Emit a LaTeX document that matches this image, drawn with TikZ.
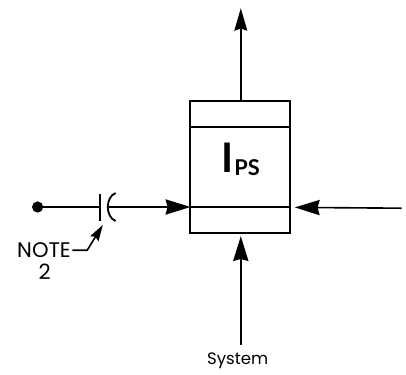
\documentclass[tikz,border=0pt]{standalone}
\usepackage{fontspec}
\setmainfont{Poppins}
\newfontfamily\ipsfont{Lato}
\usetikzlibrary{arrows.meta,positioning,calc}
\tikzset{
  wire/.style={line width=1.15pt},
  flow/.style={wire,-{Stealth[length=0.62cm,width=0.38cm,inset=0.05cm]}},
  outflow/.style={wire,-{Stealth[length=0.56cm,width=0.32cm,inset=0.05cm]}},
  label/.style={inner sep=0pt,font=\fontsize{15}{17}\selectfont},
}
\begin{document}
\begin{tikzpicture}[every node/.style={inner sep=0pt}]
  \useasboundingbox (0,0) rectangle (10.15,9.375);
  % I_PS block
  \node[draw,line width=1.3pt,minimum width=2.51cm,minimum height=3.3cm] (block) at (6.0,5.2) {};
  \coordinate (rowtopL) at (4.76,6.2);
  \coordinate (rowtopR) at (7.26,6.2);
  \coordinate (rowbotL) at (4.76,4.2);
  \coordinate (rowbotR) at (7.26,4.2);
  \draw[line width=1.3pt] (rowtopL) -- (rowtopR);
  \draw[line width=1.3pt] (rowbotL) -- (rowbotR);
  \node (ips) at (6.02,5.4) {\fontsize{29}{30}\selectfont\ipsfont\bfseries I\hspace{0.5pt}\raisebox{-2pt}{\fontsize{15.5}{20}\selectfont PS}};
  % output
  \coordinate (outtip) at (6.02,9.17);
  \draw[outflow] (6.02,6.85) -- (outtip);
  % system input
  \node[label,font=\fontsize{11.8}{14}\selectfont] (system) at (5.94,0.36) {System};
  \coordinate (systail) at (6.02,0.75);
  \coordinate (systip) at (6.02,3.47);
  \draw[flow] (systail) -- (systip);
  % right input
  \coordinate (righttail) at (10.04,4.17);
  \coordinate (righttip) at (7.37,4.19);
  \draw[flow] (righttail) -- (righttip);
  % left input with capacitor
  \node[circle,fill=black,minimum size=0.28cm] (dot) at (0.94,4.2) {};
  \coordinate (plateA) at (2.51,4.2);
  \coordinate (plateB) at (2.72,4.2);
  \coordinate (lefttip) at (4.76,4.2);
  \draw[wire] (dot) -- (plateA);
  \draw[line width=1.3pt] (2.51,3.86) -- (2.51,4.53);
  \draw[line width=1.3pt] (2.89,4.55) .. controls (2.63,4.45) and (2.63,3.95) .. (2.89,3.85);
  \draw[flow] (plateB) -- (lefttip);
  % note
  \node[label] (note) at (1.1,3.12) {NOTE};
  \node[label] (notenum) at (1.12,2.58) {2};
  \coordinate (notebend) at (2.18,3.12);
  \coordinate (notetip) at (2.57,3.75);
  \draw[wire,-{Stealth[length=0.4cm,width=0.24cm,inset=0.05cm]}] (note.east) ++(0.03,0) -- (notebend) -- (notetip);
\end{tikzpicture}
\end{document}
